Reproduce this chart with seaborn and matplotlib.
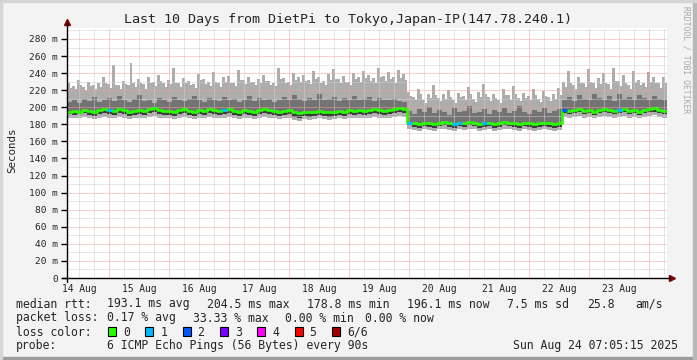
import numpy as np
import matplotlib
matplotlib.use('Agg')
import matplotlib.pyplot as plt
import matplotlib.patches as mpatches
import seaborn as sns

# SmokePing - 10 jours DietPi -> Tokyo (valeurs en ms)
T0 = 7.0875          # 14 Aug 07:05:15, en heures depuis 14 Aug 00:00
PAS = 2.0            # cases de 2 heures pour la mediane et les bandes
PAS_MAX = 1.0        # cases de 1 heure pour le sommet de la fumee

median = ([195, 196, 195, 197, 196, 195, 197, 198, 197, 196,
           198, 197, 195, 196, 197, 196, 198, 199, 197, 196,
           196, 195, 197, 198, 196, 195, 197, 196, 198, 197,
           196, 197, 198, 196, 195, 197, 196, 195, 197, 198,
           197, 196, 195, 196, 197, 194, 193, 195, 194, 195,
           196, 195, 194, 195, 196, 195, 197, 196, 197, 196,
           197, 198, 197, 196, 197, 198, 199, 198]
          + [182, 181, 180, 182, 181, 180, 182, 183, 181, 180,
             182, 181, 183, 182, 180, 181, 182, 180, 181, 183,
             182, 181, 180, 182, 181, 180, 181, 182, 181, 180, 181]
          + [197, 196, 197, 198, 196, 197, 195, 197, 198, 197,
             196, 197, 198, 196, 197, 195, 197, 198, 199, 197, 196])

smoke_max = ([228, 223, 225, 221, 232, 226, 224, 220, 230, 225, 226, 222, 229, 224, 235, 228, 227, 223, 250, 226,
              226, 222, 231, 227, 226, 252, 229, 224, 233, 228, 227, 222, 236, 229, 230, 225, 238, 231, 228, 224,
              232, 227, 246, 229, 229, 224, 234, 228, 231, 226, 227, 223, 239, 232, 233, 227, 230, 225, 241, 230,
              228, 224, 235, 230, 237, 229, 229, 225, 244, 232, 232, 227, 236, 230, 230, 226, 233, 229, 238, 231,
              231, 226, 229, 225, 246, 233, 234, 228, 230, 226, 240, 232, 236, 230, 238, 231, 232, 227, 242, 233,
              235, 229, 231, 226, 239, 232, 245, 233, 233, 228, 237, 230, 230, 226, 240, 233, 236, 230, 243, 234,
              238, 231, 234, 228, 246, 235, 237, 231, 241, 233, 235, 229, 244, 234, 239, 232]
             + [218, 213, 212, 208, 222, 215, 208, 205, 216, 211, 226, 214, 211, 207, 215, 210, 220, 212, 209, 205,
                217, 212, 213, 208, 224, 215, 210, 206, 218, 212, 227, 216, 212, 207, 216, 211, 209, 205, 221, 214,
                214, 209, 225, 216, 211, 207, 217, 211, 213, 208, 222, 214, 210, 206, 219, 213, 212, 207, 216, 210,
                223, 214]
             + [230, 224, 242, 229, 226, 221, 236, 228, 229, 224, 245, 230, 228, 223, 234, 227, 240, 229, 227, 222,
                246, 231, 231, 225, 238, 229, 226, 221, 243, 230, 232, 226, 229, 224, 241, 230, 235, 228, 228, 223,
                236, 229])

smoke_hi = ([206, 208, 205, 210, 207, 212, 206, 209, 211, 207,
             213, 208, 206, 210, 214, 207, 209, 205, 211, 208,
             206, 212, 209, 207, 210, 213, 208, 206, 211, 209,
             207, 212, 208, 210, 206, 209, 213, 207, 211, 208,
             210, 206, 209, 212, 208, 214, 210, 207, 211, 209,
             215, 208, 210, 212, 207, 211, 209, 213, 208, 210,
             212, 207, 211, 209, 208, 210, 207, 206]
            + [196, 192, 198, 194, 200, 193, 197, 195, 191, 199,
               194, 196, 202, 193, 195, 198, 192, 197, 194, 199,
               193, 196, 201, 194, 192, 197, 195, 199, 193, 196, 198]
            + [209, 212, 207, 214, 210, 208, 215, 211, 209, 213,
               207, 216, 210, 212, 208, 214, 211, 209, 213, 210, 208])

smoke_lo = ([192, 191, 192, 193, 191, 190, 192, 193, 192, 191,
             193, 192, 190, 191, 192, 191, 193, 194, 192, 191,
             191, 190, 192, 193, 191, 190, 192, 191, 193, 192,
             191, 192, 193, 191, 190, 192, 191, 190, 192, 193,
             192, 191, 190, 191, 192, 189, 188, 190, 189, 190,
             191, 190, 189, 190, 191, 190, 192, 191, 192, 191,
             192, 193, 192, 191, 192, 193, 194, 193]
            + [179, 177, 176, 178, 177, 176, 178, 179, 177, 176,
               178, 177, 179, 178, 176, 177, 178, 176, 177, 179,
               178, 177, 176, 178, 177, 176, 177, 178, 177, 176, 177]
            + [193, 192, 193, 194, 192, 193, 191, 193, 194, 193,
               192, 193, 194, 192, 193, 191, 193, 194, 195, 193, 192])

smoke_min = ([188, 187, 188, 189, 187, 186, 188, 189, 188, 187,
              189, 188, 186, 187, 188, 187, 189, 190, 188, 187,
              187, 186, 188, 189, 187, 186, 188, 187, 189, 188,
              187, 188, 189, 187, 186, 188, 187, 186, 188, 189,
              188, 187, 186, 187, 188, 185, 184, 186, 185, 186,
              187, 186, 185, 186, 187, 186, 188, 187, 188, 187,
              188, 189, 188, 187, 188, 189, 190, 189]
             + [175, 173, 172, 174, 173, 172, 174, 175, 173, 172,
                174, 173, 175, 174, 172, 173, 174, 172, 173, 175,
                174, 173, 172, 174, 173, 172, 173, 174, 173, 172, 173]
             + [189, 188, 189, 190, 188, 189, 187, 189, 190, 189,
                188, 189, 190, 188, 189, 187, 189, 190, 191, 189, 188])

# cases avec pertes : indice -> nombre de pings perdus
pertes = {8: 1, 31: 1, 68: 1, 77: 1, 78: 1, 83: 1, 99: 2, 110: 1}

jours = ['14 Aug', '15 Aug', '16 Aug', '17 Aug', '18 Aug',
         '19 Aug', '20 Aug', '21 Aug', '22 Aug', '23 Aug']

loss_labels = ['0', '1', '2', '3', '4', '5', '6/6']
loss_colors = ['#26ff00', '#00b8ff', '#0059ff', '#7e00ff', '#ff00ff', '#ff0000', '#a10000']

legende_rtt = [('median rtt:', 16), ('193.1 ms avg', 107), ('204.5 ms max', 207),
               ('178.8 ms min', 307), ('196.1 ms now', 407), ('7.5 ms sd', 507),
               ('25.8', 587), ('am/s', 635)]
legende_loss = [('packet loss:', 16), ('0.17 % avg', 107), ('33.33 % max', 193),
                ('0.00 % min', 285), ('0.00 % now', 365)]
legende_probe = [('probe:', 16), ('6 ICMP Echo Pings (56 Bytes) every 90s', 107),
                 ('Sun Aug 24 07:05:15 2025', 513)]

TITRE = 'Last 10 Days from DietPi to Tokyo,Japan-IP(147.78.240.1)'

W, H = 697, 360
MONO = 'DejaVu Sans Mono'

sns.set_style('white')
plt.rcParams['font.family'] = [MONO, 'DejaVu Sans']


def fx(px):
    return px / W


def fy(py):
    return 1 - py / H


def ext(v):
    v = np.asarray(v, float)
    return np.append(v, v[-1])


n = len(median)
bords = T0 + PAS * np.arange(n + 1)
bords_h = T0 + PAS_MAX * np.arange(len(smoke_max) + 1)
ratio = int(PAS / PAS_MAX)

fig = plt.figure(figsize=(W / 100, H / 100), dpi=100, facecolor='#F3F3F3')
ax = fig.add_axes([fx(67), 82 / H, 600 / W, 250 / H])
ax.set_facecolor('white')
ymax = 250 / 0.8536
ax.set_xlim(T0, T0 + 240)
ax.set_ylim(0, ymax)

# fumee
ax.fill_between(bords_h, ext(np.repeat(smoke_min, ratio)), ext(smoke_max), step='post',
                color='#ADADAD', lw=0, zorder=2)
ax.fill_between(bords, ext(smoke_lo), ext(smoke_hi), step='post', color='#737373', lw=0, zorder=2)
ax.fill_between(bords, ext(smoke_lo), ext(median), step='post', color='#3C3C3C', lw=0, zorder=2)

# grille
pointille = (0, (1, 1))
for h in np.arange(6, 250, 6):
    if T0 < h < T0 + 240:
        c = '#F2A0A0' if h % 24 == 0 else '#CFCFCF'
        ax.axvline(h, color=c, lw=0.72, ls=pointille, zorder=3)
for v in np.arange(10, ymax, 10):
    c = '#F2A0A0' if v % 20 == 0 else '#CFCFCF'
    ax.axhline(v, color=c, lw=0.72, ls=pointille, zorder=3)

# mediane coloree selon les pertes
sns.lineplot(x=bords, y=ext(median), drawstyle='steps-post', color=loss_colors[0],
             lw=1.9, ax=ax, zorder=4)
for i, k in pertes.items():
    ax.hlines(median[i], bords[i], bords[i + 1], color=loss_colors[k], lw=2.2, zorder=5)

# axes
for s in ax.spines.values():
    s.set_visible(False)
ax.plot([0, 0], [-0.016, 1.02], color='black', lw=1, transform=ax.transAxes, clip_on=False, zorder=6)
ax.plot([-0.008, 1.005], [0, 0], color='black', lw=1, transform=ax.transAxes, clip_on=False, zorder=6)
ax.plot([0], [1.025], marker='^', color='#800000', ms=4, transform=ax.transAxes, clip_on=False)
ax.plot([1.009], [0], marker='>', color='#800000', ms=4, transform=ax.transAxes, clip_on=False)

yt = np.arange(0, 281, 20)
ax.set_yticks(yt, ['0' if v == 0 else f'{v} m' for v in yt])
ax.set_xticks(12 + 24 * np.arange(len(jours)), jours)
ax.tick_params(axis='y', length=4, width=1, pad=2.5, labelsize=6.8, color='black', left=True)
ax.tick_params(axis='x', length=0, pad=4, labelsize=6.9)
ax.set_ylabel('Seconds', fontsize=7.8)
ax.yaxis.set_label_coords(-50 / 600, 0.51)

fig.text(0.5, fy(19), TITRE, ha='center', va='center', fontsize=9.6)
fig.text(fx(686), fy(6), 'RRDTOOL / TOBI OETIKER', rotation=-90, ha='center', va='top',
         fontsize=5.8, color='#A8A8A8')

for items, py in [(legende_rtt, 304), (legende_loss, 318), (legende_probe, 346)]:
    for txt, px in items:
        fig.text(fx(px), fy(py), txt, ha='left', va='center', fontsize=8.3)

fig.text(fx(16), fy(332), 'loss color:', ha='left', va='center', fontsize=8.3)
for j, (lab, col) in enumerate(zip(loss_labels, loss_colors)):
    px = 108 + 37.3 * j
    fig.patches.append(mpatches.Rectangle((fx(px), fy(336)), 8 / W, 9 / H, transform=fig.transFigure,
                                          facecolor=col, edgecolor='black', lw=0.8))
    fig.text(fx(px + 15), fy(332), lab, ha='left', va='center', fontsize=8.3)

# cadre
fig.patches.append(mpatches.Rectangle((0, 0), 1, 3 / H, transform=fig.transFigure, color='#9C9C9C'))
fig.patches.append(mpatches.Rectangle((1 - 4 / W, 0), 4 / W, 1, transform=fig.transFigure, color='#B8B8B8'))
fig.patches.append(mpatches.Rectangle((0, 1 - 2 / H), 1, 2 / H, transform=fig.transFigure, color='#D6D6D6'))
fig.patches.append(mpatches.Rectangle((0, 0), 2 / W, 1, transform=fig.transFigure, color='#D6D6D6'))

fig.savefig('out.png', dpi=100, facecolor=fig.get_facecolor())
